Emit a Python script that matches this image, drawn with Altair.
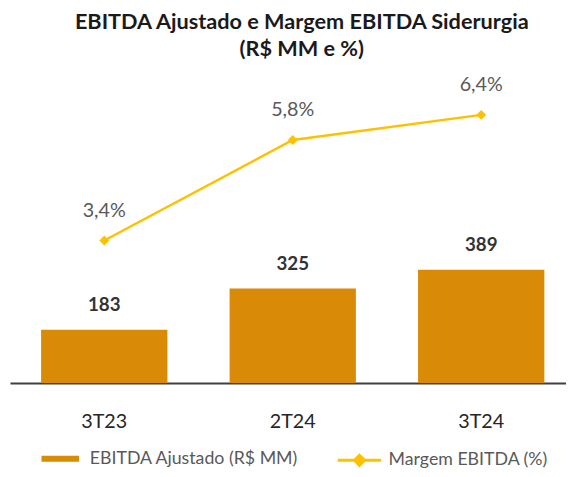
import altair as alt
import pandas as pd

categories = ["3T23", "2T24", "3T24"]
ebitda = [183, 325, 389]
margem = [3.4, 5.8, 6.4]
margem_labels = ["3,4%", "5,8%", "6,4%"]
serie_barra = "EBITDA Ajustado (R$ MM)"
serie_linha = "Margem EBITDA (%)"

df = pd.DataFrame({
    "cat": categories,
    "ebitda": ebitda,
    "margem": margem,
    "mlabel": margem_labels,
    "s1": serie_barra,
    "s2": serie_linha,
})

BAR = "#D98A06"
LINE = "#FFC000"
FONT = "Lato"

x = alt.X(
    "cat:N", sort=categories, title=None,
    scale=alt.Scale(paddingInner=0.33, paddingOuter=0.14, align=0.59),
    axis=alt.Axis(domain=True, domainColor="#404040", domainWidth=2, ticks=False,
                  labelAngle=0, labelFont=FONT, labelFontSize=20, labelColor="#262626",
                  labelPadding=29, grid=False),
)

ybar = alt.Y("ebitda:Q", axis=None, scale=alt.Scale(domain=[0, 1102]))
yline = alt.Y("margem:Q", axis=None, scale=alt.Scale(domain=[0, 7.65]))

base = alt.Chart(df)

bars = base.mark_bar().encode(
    x=x, y=ybar,
    fill=alt.Fill("s1:N", scale=alt.Scale(range=[BAR]),
                  legend=alt.Legend(title=None, orient="none", legendX=32, legendY=383,
                                    symbolType="M-1,-0.16H1V0.16H-1Z", symbolSize=1444,
                                    symbolStrokeWidth=0, labelFont=FONT, labelFontSize=18,
                                    labelColor="#595959", labelOffset=11, padding=0,
                                    labelLimit=400)),
)
bar_text = base.mark_text(baseline="alphabetic", dy=-19, font=FONT, fontSize=19,
                          fontWeight="bold", color="#333333").encode(
    x=x, y=ybar, text="ebitda:Q")

line = base.mark_line(strokeWidth=2.5).encode(
    x=x, y=yline,
    stroke=alt.Stroke("s2:N", scale=alt.Scale(range=[LINE]),
                      legend=alt.Legend(title=None, orient="none", legendX=331, legendY=380,
                                        symbolType="M-1,0H1M0,-0.23L0.23,0L0,0.23L-0.23,0Z",
                                        symbolSize=1936, symbolStrokeWidth=3,
                                        symbolFillColor=LINE, labelFont=FONT, labelFontSize=18,
                                        labelColor="#595959", labelOffset=6, padding=0,
                                        labelLimit=400)),
)
points = base.mark_point(shape="diamond", filled=True, size=100, color=LINE, opacity=1).encode(
    x=x, y=yline)
pct_text = base.mark_text(baseline="alphabetic", dy=-24, font=FONT, fontSize=20,
                          color="#595959").encode(x=x, y=yline, text="mlabel:N")

chart = alt.layer(
    alt.layer(bars, bar_text),
    alt.layer(line, points, pct_text),
).resolve_scale(y="independent").properties(
    width=564, height=325,
    autosize=alt.AutoSizeParams(type="none"),
    padding={"left": 2, "top": 52, "right": 0, "bottom": 84},
    title=alt.Title(["EBITDA Ajustado e Margem EBITDA Siderurgia", "(R$ MM e %)"],
                    font=FONT, fontSize=22, fontWeight="bold", color="#1a1a1a",
                    anchor="middle", dx=14, offset=2, lineHeight=27),
).configure_view(stroke=None)

chart.save("out.html", embed_options={"renderer": "svg", "actions": False})
